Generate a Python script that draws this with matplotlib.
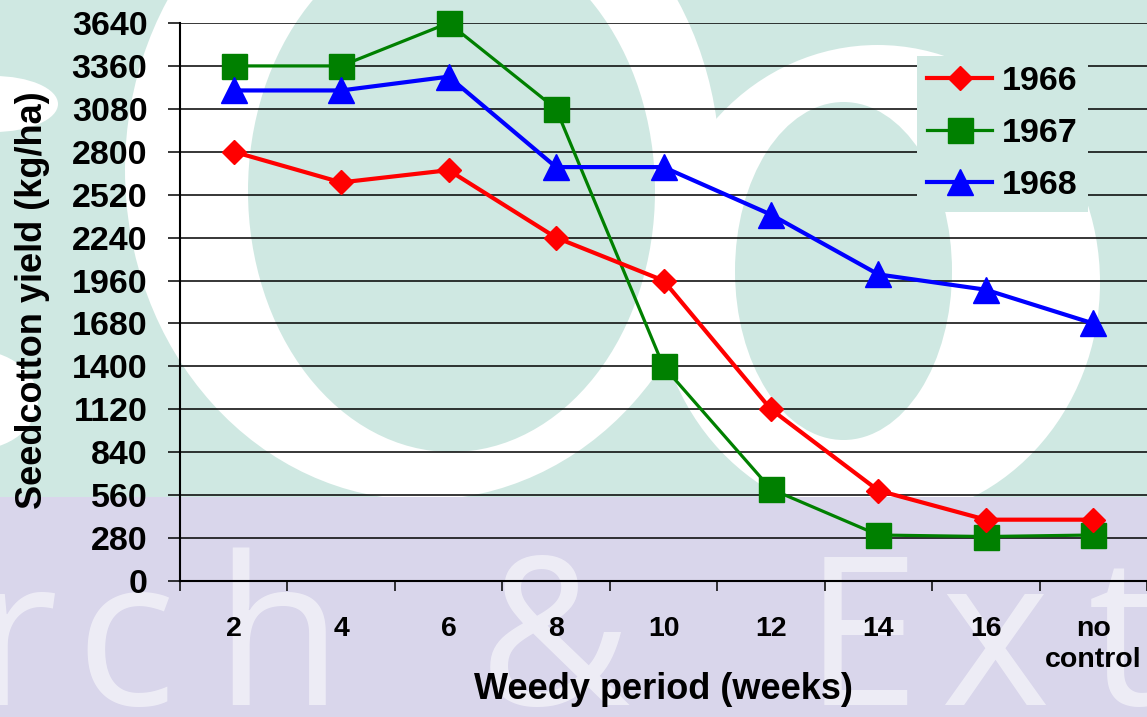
import numpy as np
import matplotlib
matplotlib.use('Agg')
import matplotlib.pyplot as plt
from matplotlib.patches import Ellipse, Rectangle

# weedy period trial: seedcotton yield by year
weeks = ['2', '4', '6', '8', '10', '12', '14', '16', 'no\ncontrol']
y1966 = [2800, 2600, 2680, 2240, 1960, 1120, 590, 400, 400]
y1967 = [3360, 3360, 3640, 3080, 1400, 600, 300, 290, 300]
y1968 = [3200, 3200, 3290, 2700, 2700, 2390, 2000, 1900, 1680]
yticks = list(range(0, 3641, 280))

W, H = 1147, 717
teal = '#cfe8e2'
lav = '#d9d6eb'
plt.rcParams['font.family'] = ['Liberation Sans', 'DejaVu Sans']
plt.rcParams['font.weight'] = 'bold'

fig = plt.figure(figsize=(W / 100, H / 100), dpi=100)
fig.patch.set_facecolor(teal)

def fx(x):  # pixel -> figure fraction
    return x / W

def fy(y):
    return 1 - y / H

# background logo shapes (white rings on teal), kept behind the axes
def blob(x0, x1, y0, y1, color):
    e = Ellipse(((fx(x0) + fx(x1)) / 2, (fy(y0) + fy(y1)) / 2),
                fx(x1) - fx(x0), fy(y0) - fy(y1), transform=fig.transFigure,
                facecolor=color, edgecolor='none', zorder=-10)
    fig.patches.append(e)

blob(125, 720, -160, 500, 'white')
blob(248, 655, -70, 452, teal)
blob(655, 1100, 45, 520, 'white')
blob(735, 952, 102, 440, teal)
blob(-70, 58, 76, 132, 'white')
blob(-90, 38, 350, 450, 'white')
fig.patches.append(Rectangle((0, 0), 1, fy(497), transform=fig.transFigure,
                             facecolor=lav, edgecolor='none', zorder=-9))

# faded lettering on the lower band
for ch, x in [('r', 15), ('c', 125), ('h', 278), ('&', 555), ('E', 862), ('x', 995), ('t', 1125)]:
    fig.text(fx(x), fy(705), ch, ha='center', va='baseline', fontsize=150,
             family='Open Sans', fontweight='normal', color='white', alpha=0.55, zorder=-8)

ax = fig.add_axes([fx(180), fy(581), fx(1147) - fx(180), fy(23) - fy(581)])
ax.set_facecolor('none')
x = np.arange(len(weeks))

ax.plot(x, y1966, color='#ff0000', lw=3, marker='D', ms=12.5, label='1966', clip_on=False, zorder=4)
ax.plot(x, y1967, color='#008000', lw=2.3, marker='s', ms=18, label='1967', clip_on=False, zorder=3)
ax.plot(x, y1968, color='#0000ff', lw=3, marker='^', ms=19, label='1968', clip_on=False, zorder=3)

ax.set_xlim(-0.5, 8.5)
ax.set_ylim(0, 3640)
ax.set_yticks(yticks)
ax.set_xticks(x)
ax.set_xticklabels(weeks, fontsize=20.5, linespacing=1.25)
ax.set_xticks(np.arange(-0.5, 9, 1), minor=True)
ax.tick_params(axis='x', which='major', length=0, pad=25)
ax.tick_params(axis='x', which='minor', length=7, width=1.1, direction='out')
ax.tick_params(axis='y', length=8.5, width=1.1, pad=15, labelsize=24.5)
ax.yaxis.grid(True, color='black', lw=1.1)
ax.set_axisbelow(True)
for s in ['top', 'right']:
    ax.spines[s].set_visible(False)
for s in ['left', 'bottom']:
    ax.spines[s].set_linewidth(1.5)

ax.set_xlabel('Weedy period (weeks)', fontsize=26, fontweight='bold')
ax.xaxis.set_label_coords(0.5, -0.163)
ax.set_ylabel('Seedcotton yield (kg/ha)', fontsize=26, fontweight='bold')
ax.yaxis.set_label_coords(-0.134, 0.504)

leg = ax.legend(loc='upper left', bbox_to_anchor=((917 - 180) / 967, (581 - 56) / 558),
                borderaxespad=0, borderpad=0.3, fontsize=24.5, handlelength=1.9,
                handletextpad=0.3, labelspacing=0.62, frameon=True, fancybox=False)
leg.get_frame().set_facecolor(teal)
leg.get_frame().set_edgecolor('none')
leg.get_frame().set_alpha(1)

fig.savefig('out.png', dpi=100, facecolor=fig.get_facecolor())
